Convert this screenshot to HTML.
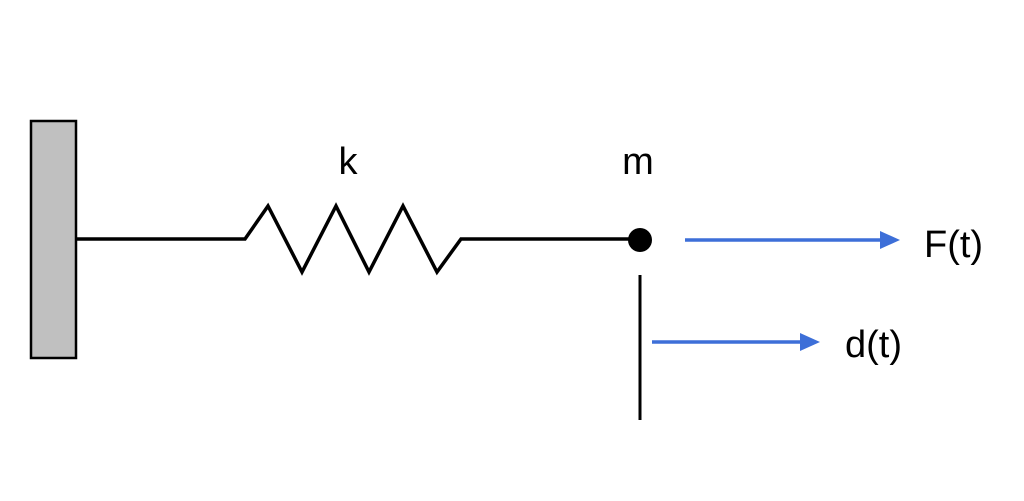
<!DOCTYPE html>
<html><head><style>body{margin:0;background:#fff}</style></head><body>
<svg width="1024" height="501" xmlns="http://www.w3.org/2000/svg" style="display:block">
<rect x="31" y="121" width="45" height="237" fill="#c0c0c0" stroke="#000" stroke-width="2.5"/>
<polyline points="76,239 245,239 268,206 302,272 336,206 369,272 403,206 437,272 461,239 640,239" fill="none" stroke="#000" stroke-width="3.5" stroke-linejoin="miter"/>
<circle cx="640" cy="240" r="12" fill="#000"/>
<line x1="640" y1="275" x2="640" y2="420" stroke="#000" stroke-width="3"/>
<line x1="685" y1="240" x2="884" y2="240" stroke="#3d6fd8" stroke-width="3.5"/>
<polygon points="880,231 900,240 880,249" fill="#3d6fd8"/>
<line x1="652" y1="342" x2="804" y2="342" stroke="#3d6fd8" stroke-width="3.5"/>
<polygon points="800,333 820,342 800,351" fill="#3d6fd8"/>
<g font-family="Liberation Sans, sans-serif" font-size="38" fill="#000">
<text x="348" y="174" text-anchor="middle">k</text>
<text x="638" y="174" text-anchor="middle">m</text>
<text x="924" y="257">F(t)</text>
<text x="845" y="357">d(t)</text>
</g>
</svg>
</body></html>
